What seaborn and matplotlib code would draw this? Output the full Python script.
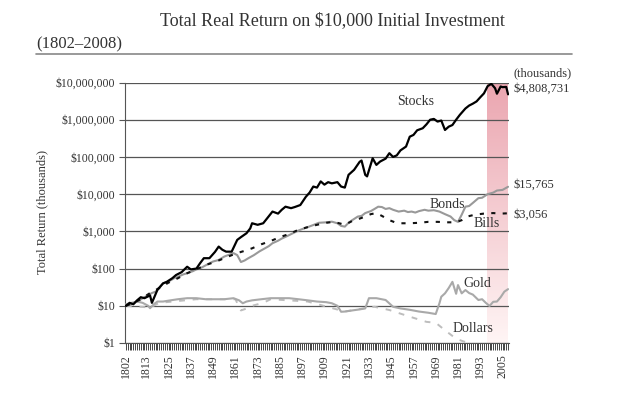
import numpy as np
import pandas as pd
import seaborn as sns
import matplotlib
matplotlib.use("Agg")
import matplotlib.pyplot as plt

# Valores (miles de dolares, escala log)
stock_years = [1802, 1804, 1806, 1808, 1810, 1812, 1815, 1816, 1819, 1822, 1824, 1827, 1829, 1832,
               1835, 1837, 1840, 1842, 1844, 1847, 1850, 1852, 1854, 1856, 1859, 1862, 1864, 1867,
               1869, 1870, 1873, 1876, 1878, 1881, 1884, 1886, 1888, 1891, 1893, 1896, 1899, 1901,
               1903, 1905, 1907, 1909, 1911, 1913, 1916, 1918, 1920, 1922, 1925, 1928, 1929, 1931,
               1932, 1935, 1937, 1939, 1942, 1944, 1946, 1948, 1950, 1953, 1955, 1957, 1959, 1962,
               1964, 1966, 1968, 1970, 1972, 1974, 1976, 1978, 1980, 1982, 1985, 1987, 1989, 1991,
               1993, 1995, 1997, 1999, 2001, 2002, 2004, 2005, 2007, 2008]
stock_vals = [10, 12, 11, 14, 17, 16, 19, 12, 27, 40, 44, 55, 67, 80,
              112, 95, 100, 140, 190, 190, 280, 390, 320, 285, 285, 590, 700, 890,
              1200, 1650, 1500, 1650, 2200, 3400, 3000, 3800, 4600, 4200, 4500, 5100, 8500, 11000,
              16000, 15000, 22000, 18000, 21000, 19500, 21000, 16000, 15000, 33000, 45000, 74000, 80000, 33000,
              30000, 92000, 61000, 75000, 90000, 126000, 100000, 110000, 150000, 190000, 350000, 390000, 520000, 590000,
              750000, 1000000, 1050000, 890000, 950000, 530000, 650000, 720000, 1000000, 1350000, 2000000, 2400000, 2700000, 3100000,
              4000000, 5100000, 8000000, 9200000, 7000000, 5000000, 7800000, 7500000, 7600000, 4808731]

bond_years = [1802, 1805, 1808, 1812, 1816, 1818, 1820, 1822, 1825, 1828, 1830, 1833, 1835, 1838,
              1840, 1843, 1846, 1849, 1852, 1855, 1858, 1860, 1862, 1864, 1866, 1868, 1871, 1874,
              1876, 1879, 1881, 1884, 1886, 1889, 1892, 1895, 1897, 1900, 1903, 1906, 1910, 1913,
              1916, 1918, 1920, 1922, 1924, 1927, 1929, 1931, 1934, 1936, 1938, 1940, 1942, 1944,
              1946, 1949, 1952, 1954, 1956, 1958, 1960, 1963, 1965, 1968, 1971, 1974, 1977, 1979,
              1981, 1983, 1985, 1987, 1989, 1992, 1994, 1997, 2000, 2002, 2005, 2008]
bond_vals = [10, 11, 13, 17, 22, 24, 30, 40, 45, 55, 60, 70, 75, 85,
             95, 108, 130, 155, 170, 210, 240, 260, 230, 150, 165, 190, 230, 290,
             330, 400, 480, 560, 640, 750, 890, 1050, 1150, 1300, 1480, 1700, 1750, 1820,
             1650, 1400, 1340, 1700, 2000, 2500, 2600, 3100, 3500, 4000, 4600, 4500, 4000, 4200,
             3800, 3400, 3600, 3300, 3400, 3200, 3500, 3800, 3600, 3700, 3400, 2900, 2500, 2000,
             1800, 2800, 4600, 4800, 5800, 7800, 8000, 10000, 11000, 12500, 13000, 15765]

bill_years = [1802, 1806, 1810, 1815, 1820, 1825, 1830, 1835, 1840, 1845, 1850, 1855, 1860, 1863,
              1866, 1870, 1875, 1880, 1885, 1890, 1895, 1900, 1905, 1910, 1914, 1918, 1920, 1924,
              1928, 1931, 1934, 1937, 1940, 1944, 1947, 1950, 1955, 1960, 1965, 1970, 1975, 1980,
              1983, 1986, 1990, 1995, 2000, 2004, 2008]
bill_vals = [10, 12, 15, 22, 30, 42, 55, 75, 95, 125, 150, 190, 240, 270,
             300, 350, 450, 550, 700, 850, 1100, 1300, 1500, 1700, 1800, 1600, 1500, 1900,
             2200, 2500, 2900, 3100, 2600, 2000, 1750, 1650, 1650, 1700, 1800, 1800, 1750, 1750,
             2000, 2500, 2800, 3000, 3100, 3000, 3056]

gold_years = [1802, 1805, 1808, 1811, 1814, 1815, 1817, 1819, 1822, 1826, 1830, 1835, 1840, 1845,
              1850, 1855, 1860, 1863, 1865, 1867, 1870, 1875, 1880, 1885, 1890, 1895, 1900, 1905,
              1910, 1913, 1916, 1918, 1920, 1924, 1928, 1931, 1933, 1937, 1942, 1946, 1950, 1955,
              1960, 1965, 1969, 1971, 1972, 1974, 1976, 1978, 1980, 1981, 1983, 1985, 1987, 1989,
              1992, 1994, 1996, 1998, 2000, 2002, 2004, 2006, 2008]
gold_vals = [11, 12, 13, 12, 10, 8.6, 11, 13, 13, 14, 15, 16, 16, 15,
             15, 15, 16, 14, 11.7, 13, 14, 15, 16, 16, 16, 15, 14, 13,
             12.5, 11.7, 10, 6.9, 7, 7.5, 8, 8.5, 16, 16, 14.3, 9.4, 8.5, 7.8,
             7, 6.5, 6, 11.7, 17.5, 21.6, 30, 44, 21, 36, 21.6, 26.5, 22, 20,
             14.3, 15, 12, 9.9, 12.8, 13, 17, 24, 28]

dollar_years = [1802, 1815, 1820, 1840, 1861, 1864, 1866, 1870, 1876, 1880, 1900, 1920, 1930,
                1936, 1944, 1955, 1964, 1969, 1974, 1980, 1984, 1995, 2008]
dollar_vals = [10, 9, 12, 15, 15, 7.5, 8.1, 10, 12, 15, 13, 7, 8.5,
               9.4, 7.7, 5.1, 3.7, 3.5, 2.2, 1.3, 1.1, 0.8, 0.6]

year_ticks = [1802, 1813, 1825, 1837, 1849, 1861, 1873, 1885, 1897, 1909, 1921, 1933, 1945,
              1957, 1969, 1981, 1993, 2005]
y_ticks = [1, 10, 100, 1000, 10000, 100000, 1000000, 10000000]
y_labels = ["$1", "$10", "$100", "$1,000", "$10,000", "$100,000", "$1,000,000", "$10,000,000"]

sns.set_style("white")
plt.rcParams['font.family'] = ['Liberation Serif', 'DejaVu Serif']
txt = "#333333"

fig = plt.figure(figsize=(6.4, 3.99), dpi=100)
ax = fig.add_axes([125 / 640, 56 / 399, 384 / 640, 260.5 / 399])

# franja rosa con degradado (1997-2008)
grad = np.linspace(0, 1, 256).reshape(-1, 1)
top = np.array([0.92, 0.65, 0.69])
bot = np.array([1.0, 0.96, 0.96])
img = top * (1 - grad[..., None]) + bot * grad[..., None]
img = img.reshape(256, 1, 3)
ax.imshow(img, extent=[1996.8, 2008.5, 0, 1], transform=ax.get_xaxis_transform(),
          aspect="auto", zorder=0.2, origin="upper")

sns.lineplot(x=dollar_years, y=dollar_vals, ax=ax, color="#bdbdbd", lw=1.4,
             linestyle=(0, (3, 4)), zorder=2)
sns.lineplot(x=gold_years, y=gold_vals, ax=ax, color="#a9a9a9", lw=1.5, zorder=3)
sns.lineplot(x=bond_years, y=bond_vals, ax=ax, color="#999999", lw=1.5, zorder=3)
sns.lineplot(x=bill_years, y=bill_vals, ax=ax, color="#111111", lw=1.5,
             linestyle=(0, (2, 3.5)), zorder=4)
sns.lineplot(x=stock_years, y=stock_vals, ax=ax, color="#000000", lw=1.6, zorder=5)

ax.set_yscale("log")
ax.set_ylim(1, 1e7)
ax.set_xlim(1801.5, 2008.5)
ax.set_yticks(y_ticks)
ax.set_yticklabels(y_labels, fontsize=8.5, color=txt)
ax.yaxis.set_minor_locator(matplotlib.ticker.NullLocator())
ax.set_xticks(year_ticks)
ax.set_xticklabels([str(y) for y in year_ticks], rotation=90, fontsize=8.5, color=txt)
ax.set_xticks(range(1802, 2009), minor=True)
ax.tick_params(axis="x", which="both", direction="out", length=5, width=0.7, color="#444444",
               bottom=True, pad=3)
ax.tick_params(axis="y", which="major", direction="out", length=4, width=0.8, color="#555555",
               left=True, pad=3)
ax.set_xlabel("")
ax.set_ylabel("")

ax.yaxis.grid(True, color="#555555", lw=0.9)
ax.set_axisbelow(True)
for s in ["top", "right"]:
    ax.spines[s].set_visible(False)
ax.spines["left"].set_color("#555555")
ax.spines["bottom"].set_color("#555555")

# etiquetas de series
ax.text(1948, 10 ** 6.5, "Stocks", fontsize=10, color=txt, va="center", ha="left")
ax.text(1965.5, 10 ** 3.71, "Bonds", fontsize=10, color=txt, va="center", ha="left")
ax.text(1989.5, 10 ** 3.22, "Bills", fontsize=10, color=txt, va="center", ha="left", zorder=6)
ax.text(1984, 10 ** 1.61, "Gold", fontsize=10, color=txt, va="center", ha="left")
ax.text(1978, 10 ** 0.40, "Dollars", fontsize=10, color=txt, va="center", ha="left")

# textos de la figura
fig.text(332 / 640, 1 - 21 / 399, "Total Real Return on $10,000 Initial Investment",
         fontsize=13, color=txt, ha="center", va="center")
fig.text(36 / 640, 1 - 44 / 399, "(1802\u20132008)", fontsize=12, color=txt,
         ha="left", va="center")
fig.add_artist(plt.Line2D([36 / 640, 572 / 640], [1 - 54 / 399, 1 - 54 / 399],
                          color="#888888", lw=1.2))
fig.text(42 / 640, 1 - 212 / 399, "Total Return (thousands)", fontsize=9, color=txt,
         rotation=90, ha="center", va="center")
fig.text(513 / 640, 1 - 73 / 399, "(thousands)", fontsize=9, color=txt, ha="left", va="center")
fig.text(513 / 640, 1 - 89 / 399, "$4,808,731", fontsize=9, color=txt, ha="left", va="center")
fig.text(513 / 640, 1 - 185 / 399, "$15,765", fontsize=9, color=txt, ha="left", va="center")
fig.text(513 / 640, 1 - 215 / 399, "$3,056", fontsize=9, color=txt, ha="left", va="center")

fig.savefig("out.png", dpi=100)
